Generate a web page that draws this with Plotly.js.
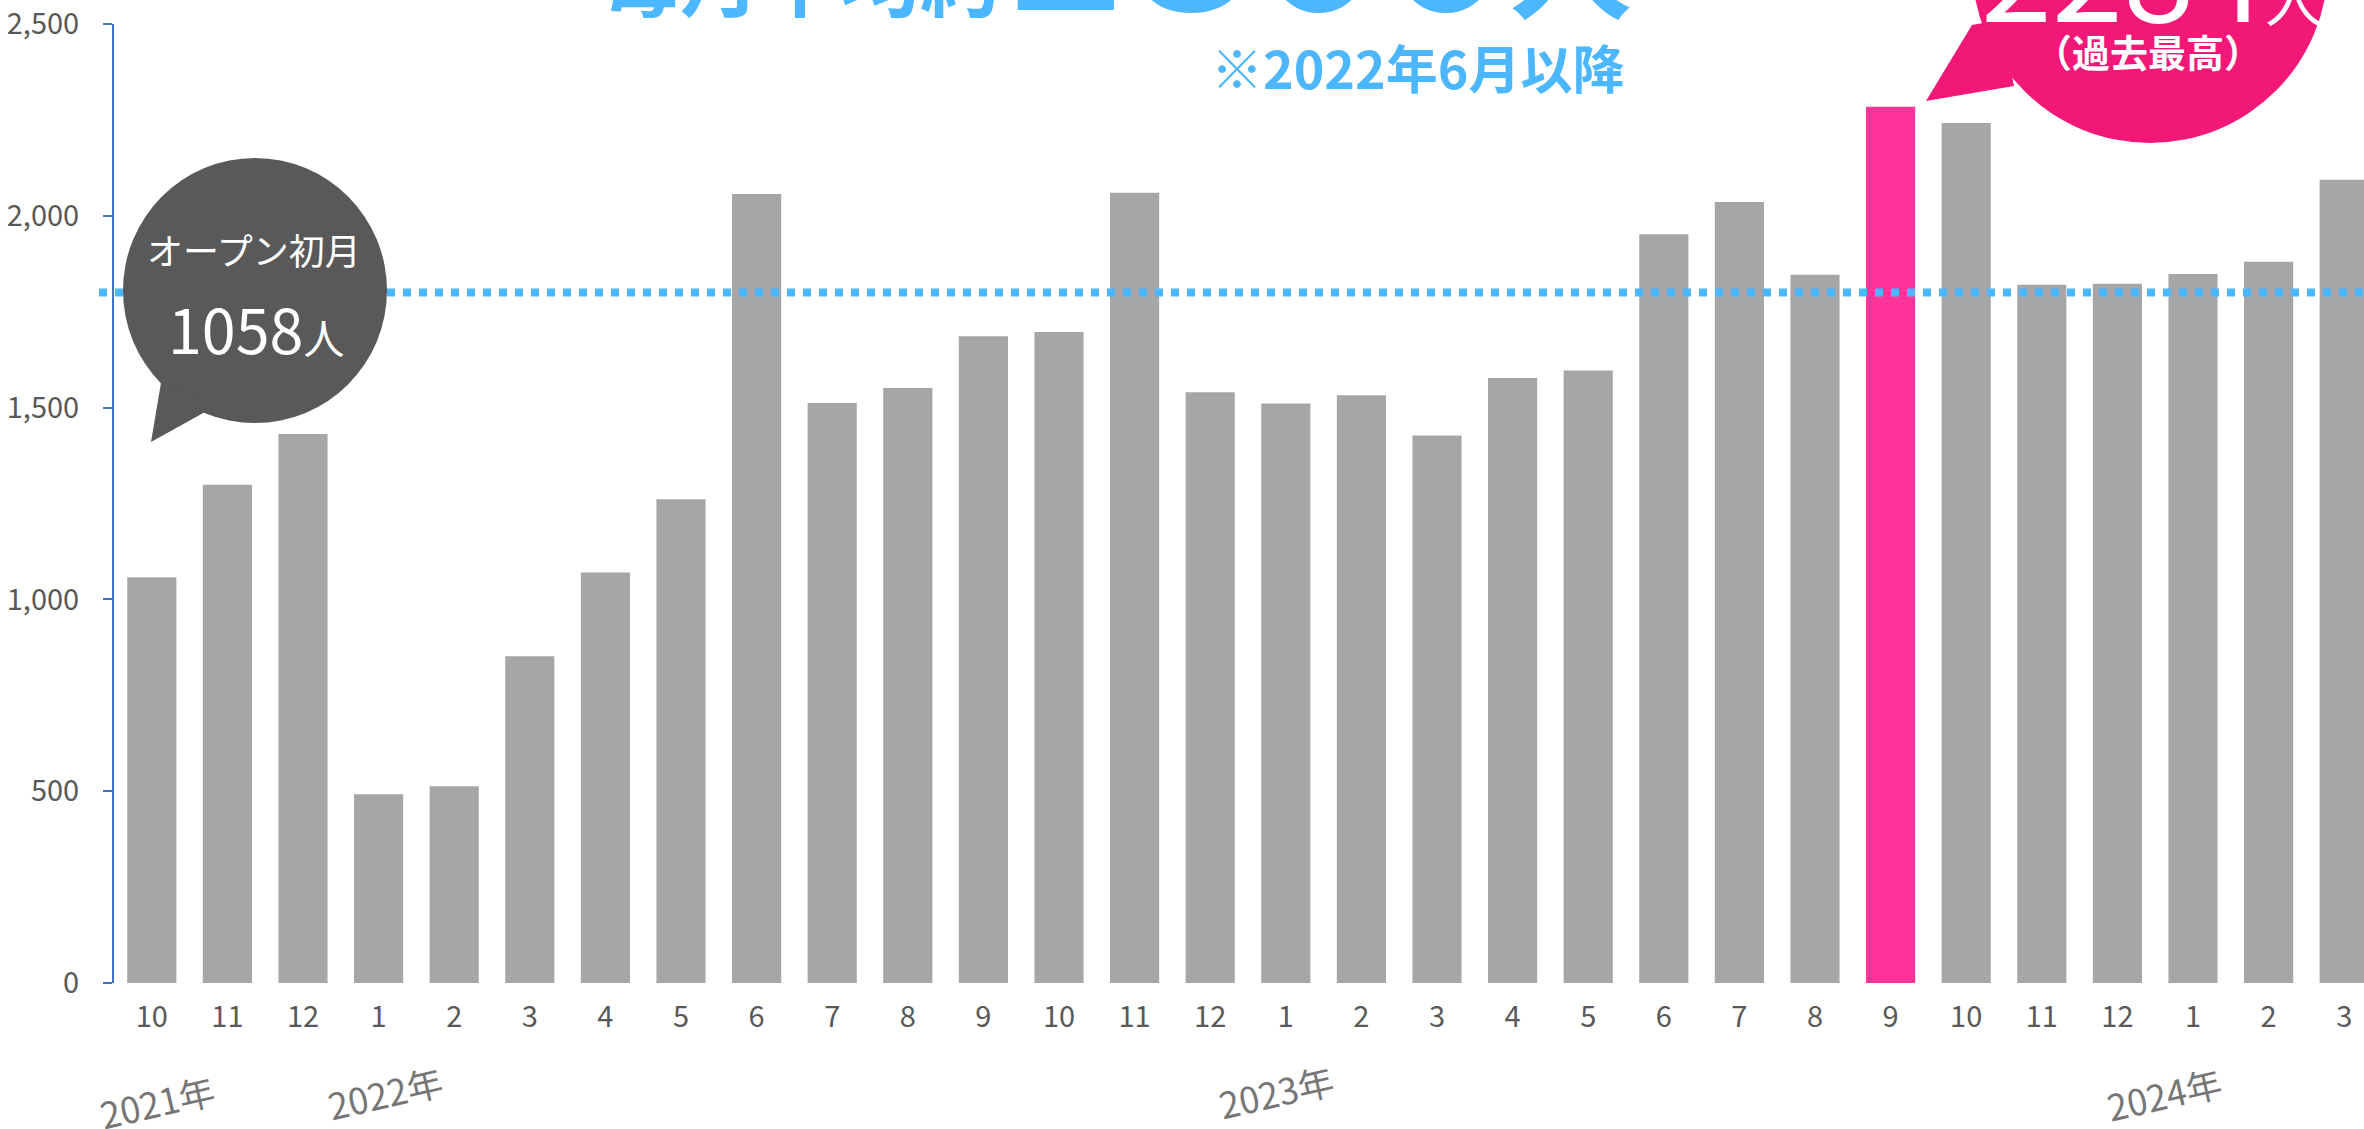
<!DOCTYPE html>
<html>
<head>
<meta charset="utf-8">
<script src="https://cdn.plot.ly/plotly-3.0.1.min.js"></script>
<style>
  html, body { margin: 0; padding: 0; background: #ffffff; overflow: hidden; }
  #chart { width: 2364px; height: 1129px; }
</style>
</head>
<body>
<div id="chart"></div>
<script>
// ---- data ----
const categories = ['2021-10','2021-11','2021-12',
  '2022-01','2022-02','2022-03','2022-04','2022-05','2022-06','2022-07','2022-08','2022-09','2022-10','2022-11','2022-12',
  '2023-01','2023-02','2023-03','2023-04','2023-05','2023-06','2023-07','2023-08','2023-09','2023-10','2023-11','2023-12',
  '2024-01','2024-02','2024-03'];
const monthLabels = ['10','11','12','1','2','3','4','5','6','7','8','9','10','11','12',
  '1','2','3','4','5','6','7','8','9','10','11','12','1','2','3'];
const visitors = [1058, 1299, 1431, 492, 513, 852, 1070, 1261, 2057, 1512, 1551, 1686, 1697, 2060, 1540,
  1511, 1532, 1427, 1577, 1597, 1952, 2036, 1846, 2284, 2242, 1820, 1823, 1848, 1880, 2094];
const yearLabels = ['2021年', '2022年', '2023年', '2024年'];
const yearStartCategory = ['2021-10', '2022-01', '2023-01', '2024-01'];
const monthlyAverage = 1800;
const yTickVals = [0, 500, 1000, 1500, 2000, 2500];
const titleMain = '毎月平均約';
const titleNumber = String(monthlyAverage);
const titleUnit = '人';
const titleNote = '※2022年6月以降';
const openLabel = 'オープン初月';
const recordLabel = '（過去最高）';

// ---- derived ----
const maxVal = Math.max(...visitors);
const maxIdx = visitors.indexOf(maxVal);
const GRAY = '#A6A6A6', PINK = '#FF3399', BUBBLE_PINK = '#F21877', BLUE = '#4CB6FF';
const barColors = visitors.map((v, i) => i === maxIdx ? PINK : GRAY);

// layout geometry (pixels -> paper)
const W = 2364, H = 1129;
const M = { l: 114, r: 0, t: 24, b: 146 };
const PW = W - M.l - M.r, PH = H - M.t - M.b;
const px = x => (x - M.l) / PW;
const py = y => (H - M.b - y) / PH;

const FONT = '"Noto Sans CJK JP", "Noto Sans", sans-serif';

const trace = {
  type: 'bar',
  x: categories,
  y: visitors,
  marker: { color: barColors, line: { width: 0 } },
  hoverinfo: 'skip'
};

const yearXShift = [5, 6, -10, -29];
const yearYPx = [1101, 1092, 1091, 1093];
const yearAnnotations = yearLabels.map((t, i) => ({
  text: t, x: yearStartCategory[i], xref: 'x', xshift: yearXShift[i],
  y: py(yearYPx[i]), yref: 'paper', xanchor: 'center', yanchor: 'middle',
  showarrow: false, textangle: -13,
  font: { family: FONT, size: 36, color: '#767676' }
}));

const layout = {
  width: W, height: H,
  margin: M,
  paper_bgcolor: '#ffffff', plot_bgcolor: '#ffffff',
  showlegend: false,
  bargap: 0.35,
  xaxis: {
    type: 'category',
    range: [-0.5, -0.5 + PW / 75.6],
    tickvals: categories, ticktext: monthLabels,
    showline: false, showgrid: false, zeroline: false,
    ticks: '', ticklabelstandoff: 14,
    tickfont: { family: FONT, size: 29, color: '#595959' },
    automargin: false, fixedrange: true
  },
  yaxis: {
    range: [0, 2500],
    tickvals: yTickVals, tickformat: ',',
    showline: true, linecolor: '#4472C4', linewidth: 2,
    ticks: 'outside', ticklen: 9, tickwidth: 2, tickcolor: '#4472C4',
    ticklabelstandoff: 18,
    showgrid: false, zeroline: false,
    tickfont: { family: FONT, size: 29, color: '#595959' },
    automargin: false, fixedrange: true
  },
  shapes: [
    // average dotted line
    { type: 'line', xref: 'paper', yref: 'y', x0: px(99), x1: 1.02, y0: monthlyAverage, y1: monthlyAverage,
      line: { color: BLUE, width: 8, dash: '8px,8px' }, layer: 'above' },
    // grey speech bubble
    { type: 'circle', xref: 'paper', yref: 'paper', x0: px(123), x1: px(387), y0: py(423), y1: py(158),
      fillcolor: '#595959', line: { width: 0 }, layer: 'above' },
    { type: 'path', xref: 'paper', yref: 'paper',
      path: `M ${px(161)},${py(383)} L ${px(151)},${py(442)} L ${px(205)},${py(412)} L ${px(200)},${py(395)} Z`,
      fillcolor: '#595959', line: { width: 0 }, layer: 'above' },
    // pink speech bubble
    { type: 'circle', xref: 'paper', yref: 'paper', x0: px(1972), x1: px(2328), y0: py(143), y1: py(-213),
      fillcolor: BUBBLE_PINK, line: { width: 0 }, layer: 'above' },
    { type: 'path', xref: 'paper', yref: 'paper',
      path: `M ${px(1972)},${py(25)} L ${px(1926)},${py(101)} L ${px(2014)},${py(86)} L ${px(2000)},${py(20)} Z`,
      fillcolor: BUBBLE_PINK, line: { width: 0 }, layer: 'above' }
  ],
  annotations: [
    // headline (cut by the top edge)
    { text: `${titleMain}<span style="font-size:216px">${titleNumber}</span><span style="font-size:122px">${titleUnit}</span>`,
      xref: 'paper', yref: 'paper', x: px(598), y: py(-84), xanchor: 'left', yanchor: 'middle',
      showarrow: false, font: { family: FONT, size: 80, color: BLUE, weight: 700 } },
    { text: titleNote, xref: 'paper', yref: 'paper', x: px(1417), y: py(67), xanchor: 'center', yanchor: 'middle',
      showarrow: false, font: { family: FONT, size: 52, color: BLUE, weight: 700 } },
    // grey bubble text
    { text: openLabel, xref: 'paper', yref: 'paper', x: px(254), y: py(249), xanchor: 'center', yanchor: 'middle',
      showarrow: false, font: { family: FONT, size: 36, color: '#ffffff' } },
    { text: `${visitors[0]}<span style="font-size:41px">人</span>`, xref: 'paper', yref: 'paper',
      x: px(256), y: py(328), xanchor: 'center', yanchor: 'middle',
      showarrow: false, font: { family: FONT, size: 61, color: '#ffffff' } },
    // pink bubble text
    { text: `${maxVal}<span style="font-size:58px">人</span>`, xref: 'paper', yref: 'paper',
      x: px(2152), y: py(-34), xanchor: 'center', yanchor: 'middle',
      showarrow: false, font: { family: FONT, size: 128, color: '#ffffff' } },
    { text: recordLabel, xref: 'paper', yref: 'paper', x: px(2148), y: py(51), xanchor: 'center', yanchor: 'middle',
      showarrow: false, font: { family: FONT, size: 38, color: '#ffffff', weight: 700 } },
    ...yearAnnotations
  ]
};

Plotly.newPlot('chart', [trace], layout, { displayModeBar: false, staticPlot: true });
</script>
</body>
</html>
